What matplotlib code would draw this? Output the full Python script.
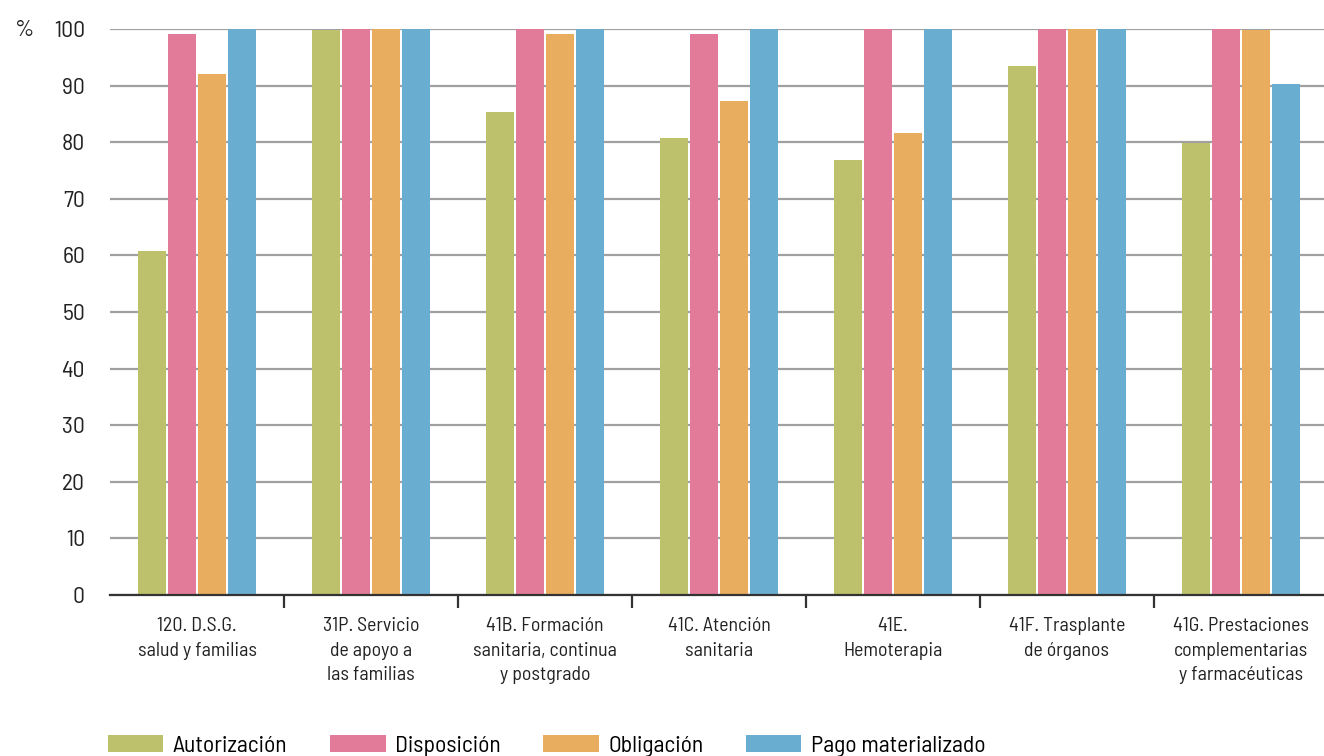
import numpy as np
import matplotlib
matplotlib.use("Agg")
import matplotlib.pyplot as plt

plt.rcParams['font.family'] = ['Barlow Semi Condensed', 'Roboto Condensed', 'DejaVu Sans']

# categories (x axis)
categorias = [
    "120. D.S.G.\nsalud y familias",
    "31P. Servicio\nde apoyo a\nlas familias",
    "41B. Formación\nsanitaria, continua\ny postgrado",
    "41C. Atención\nsanitaria",
    "41E.\nHemoterapia",
    "41F. Trasplante\nde órganos",
    "41G. Prestaciones\ncomplementarias\ny farmacéuticas",
]

# series values (%)
autorizacion = [60.8, 99.9, 85.3, 80.7, 76.9, 93.5, 79.9]
disposicion = [99.1, 100.0, 100.0, 99.1, 100.0, 100.0, 100.0]
obligacion = [92.0, 100.0, 99.1, 87.3, 81.6, 100.0, 99.9]
pago = [100.0, 100.0, 100.0, 100.0, 100.0, 100.0, 90.3]

series = ["Autorización", "Disposición", "Obligación", "Pago materializado"]
colores = ["#BEC16B", "#E27A9A", "#E8AD5F", "#69ADD0"]
yticks = [0, 10, 20, 30, 40, 50, 60, 70, 80, 90, 100]

fig = plt.figure(figsize=(13.24, 7.56), dpi=100)
ax = fig.add_axes([110/1324, 1-595/756, 1218/1324, 566/756])

x = np.arange(len(categorias))
step = 0.174
width = 0.161
for k, (vals, name, col) in enumerate(zip([autorizacion, disposicion, obligacion, pago], series, colores)):
    ax.bar(x + (k - 1.5)*step, vals, width, color=col, label=name, zorder=3)

ax.set_ylim(0, 100)
ax.set_xlim(-0.5, len(categorias) - 0.5)
ax.set_yticks(yticks)
ax.yaxis.grid(True, color="#a0a0a0", linewidth=1.6, zorder=0)
ax.set_axisbelow(True)
ax.tick_params(axis='y', length=0, pad=18, labelsize=17, labelcolor="#222222")

ax.set_xticks(x)
ax.set_xticklabels(categorias, fontsize=14.3, color="#222222", linespacing=1.45)
ax.set_xticks(np.arange(0.5, len(categorias) - 0.5, 1), minor=True)
ax.tick_params(axis='x', which='major', length=0, pad=16)
ax.tick_params(axis='x', which='minor', length=9, width=1.6, color="#333333", direction='out')

for s in ['top', 'right', 'left']:
    ax.spines[s].set_visible(False)
ax.spines['bottom'].set_color("#333333")
ax.spines['bottom'].set_linewidth(1.6)
ax.spines['bottom'].set_zorder(4)

fig.text(15/1324, 1-30/756, "%", fontsize=17, color="#222222", va='center', ha='left')

fig.legend(loc='center left', bbox_to_anchor=(108/1324, 1-746/756), ncol=4, frameon=False,
           fontsize=17, handlelength=2.35, handleheight=0.7, handletextpad=0.4,
           columnspacing=1.8, borderpad=0, borderaxespad=0)

fig.savefig("out.png", dpi=100)
